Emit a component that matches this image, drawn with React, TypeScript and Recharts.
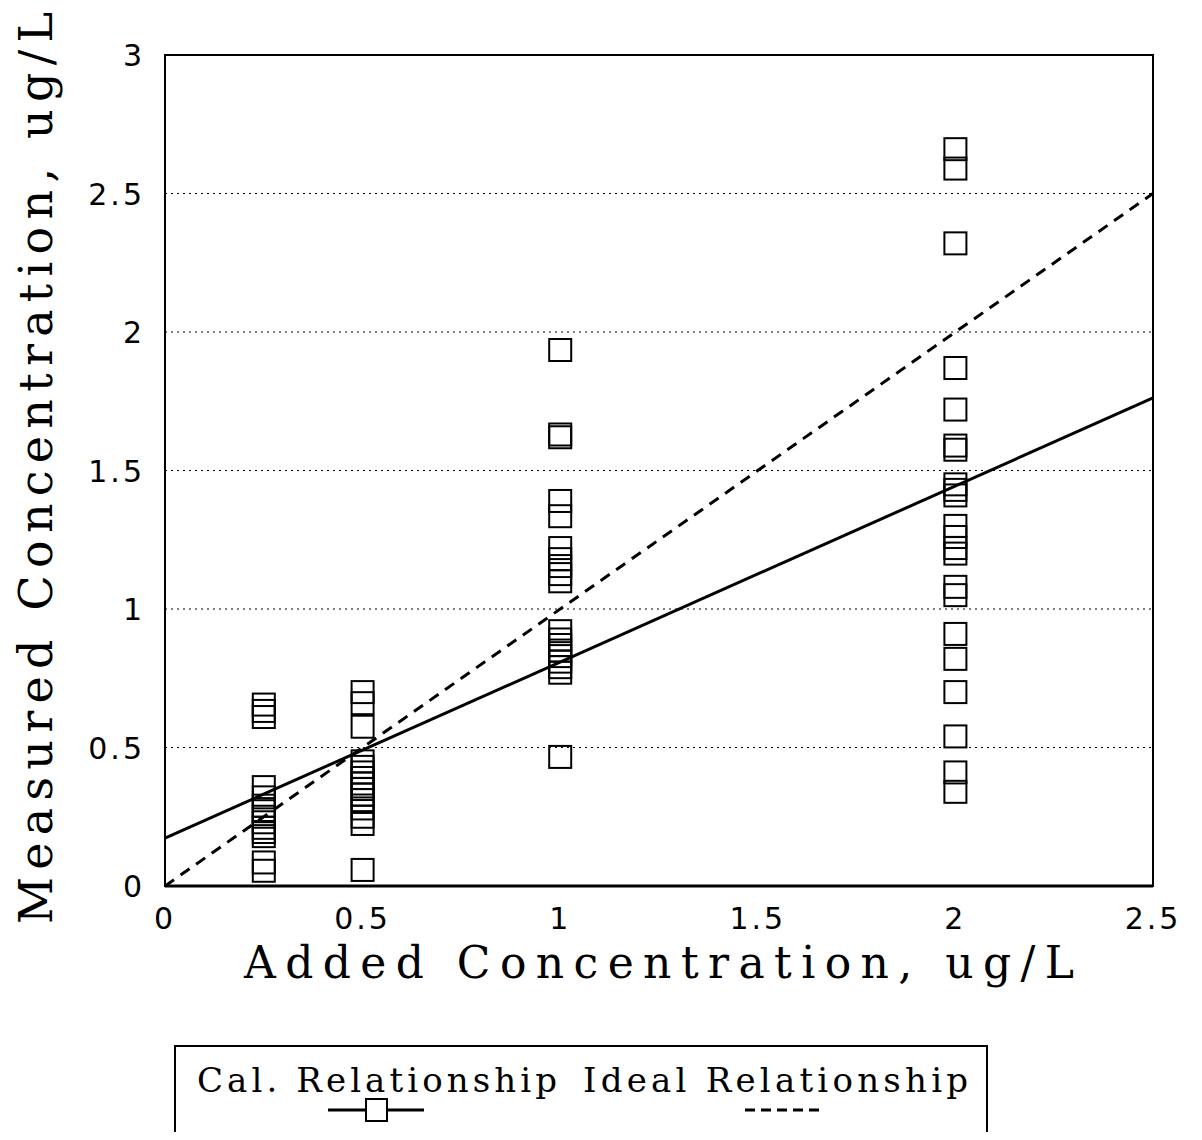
import React from 'react';
import { ScatterChart, Scatter, XAxis, YAxis, CartesianGrid, ReferenceArea, Label } from 'recharts';

// measured values grouped by added concentration (ug/L)
const LEVEL_025 = [0.655, 0.632, 0.61, 0.357, 0.32, 0.29, 0.27, 0.25, 0.23, 0.21, 0.195, 0.18, 0.085, 0.055];
const LEVEL_05 = [0.70, 0.66, 0.575, 0.45, 0.43, 0.41, 0.39, 0.37, 0.35, 0.33, 0.31, 0.28, 0.25, 0.224, 0.058];
const LEVEL_1 = [1.935, 1.63, 1.62, 1.39, 1.335, 1.22, 1.18, 1.155, 1.126, 1.10, 0.92, 0.89, 0.87, 0.85, 0.83, 0.81, 0.79, 0.77, 0.466];
const LEVEL_2 = [2.66, 2.59, 2.32, 1.87, 1.72, 1.59, 1.575, 1.45, 1.43, 1.41, 1.30, 1.26, 1.22, 1.20, 1.08, 1.05, 0.91, 0.82, 0.70, 0.54, 0.41, 0.34];

const CAL_X = [0, 2.5];
const CAL_Y = [0.173, 1.762];
const IDEAL_X = [0, 2.5];
const IDEAL_Y = [0, 2.5];

const X_TICKS = [0, 0.5, 1, 1.5, 2, 2.5];
const Y_TICKS = [0, 0.5, 1, 1.5, 2, 2.5, 3];

const toPoints = (x: number, ys: number[]) => ys.map((y) => ({ x, y }));
const measured = [
  ...toPoints(0.25, LEVEL_025),
  ...toPoints(0.5, LEVEL_05),
  ...toPoints(1, LEVEL_1),
  ...toPoints(2, LEVEL_2),
];
const calLine = CAL_X.map((x, i) => ({ x, y: CAL_Y[i] }));
const idealLine = IDEAL_X.map((x, i) => ({ x, y: IDEAL_Y[i] }));

const TITLE_FONT = '"DejaVu Serif", serif';
const TICK_FONT = '"DejaVu Sans", sans-serif';

const Square = (props: any) => {
  const { cx, cy } = props;
  return <rect x={cx - 11} y={cy - 11} width={22} height={22} fill="none" stroke="#000" strokeWidth={2} />;
};

const NoDot = () => <g />;

const XTick = ({ x, y, payload }: any) => (
  <text x={x} y={y} dy={43} textAnchor="middle" fontFamily={TICK_FONT} fontSize={30} letterSpacing={3} fill="#000">
    {payload.value}
  </text>
);

const YTick = ({ x, y, payload }: any) => (
  <text x={x} y={y} dy={11} textAnchor="end" fontFamily={TICK_FONT} fontSize={30} letterSpacing={3} fill="#000">
    {payload.value}
  </text>
);

const XTitle = ({ viewBox }: any) => (
  <text
    x={viewBox.x + viewBox.width / 2}
    y={viewBox.y + 92}
    textAnchor="middle"
    fontFamily={TITLE_FONT}
    fontSize={44}
    textLength={830}
    lengthAdjust="spacing"
    fill="#000"
  >
    Added Concentration, ug/L
  </text>
);

const YTitle = ({ viewBox }: any) => {
  const cx = viewBox.x - 13;
  const cy = 468;
  return (
    <text
      x={cx}
      y={cy}
      transform={`rotate(-90, ${cx}, ${cy})`}
      textAnchor="middle"
      fontFamily={TITLE_FONT}
      fontSize={46}
      textLength={912}
      lengthAdjust="spacing"
      fill="#000"
    >
      Measured Concentration, ug/L
    </text>
  );
};

const LegendBox = () => (
  <div
    style={{
      position: 'absolute',
      left: 174,
      top: 1045,
      width: 814,
      height: 93,
      border: '2px solid #000',
      boxSizing: 'border-box',
    }}
  >
    <svg width={810} height={89} style={{ display: 'block' }}>
      <text x={21} y={45} fontFamily={TITLE_FONT} fontSize={34} textLength={360} lengthAdjust="spacing" fill="#000">
        Cal. Relationship
      </text>
      <text x={407} y={45} fontFamily={TITLE_FONT} fontSize={34} textLength={385} lengthAdjust="spacing" fill="#000">
        Ideal Relationship
      </text>
      <line x1={152} y1={63} x2={248} y2={63} stroke="#000" strokeWidth={3} />
      <rect x={190} y={52} width={21} height={22} fill="#fff" stroke="#000" strokeWidth={2} />
      <line x1={569} y1={63} x2={645} y2={63} stroke="#000" strokeWidth={3} strokeDasharray="10 6" />
    </svg>
  </div>
);

export default function App() {
  return (
    <div style={{ position: 'relative', width: 1202, height: 1140, margin: -8, background: '#fff' }}>
      <ScatterChart width={1202} height={1140} margin={{ top: 55, right: 49, left: 65, bottom: 194 }}>
        <CartesianGrid vertical={false} stroke="#000" strokeWidth={1.2} strokeDasharray="2 4" />
        <XAxis
          type="number"
          dataKey="x"
          domain={[0, 2.5]}
          ticks={X_TICKS}
          height={60}
          tickLine={false}
          tickSize={0}
          tickMargin={0}
          axisLine={{ stroke: '#000', strokeWidth: 3 }}
          tick={<XTick />}
          allowDataOverflow
        >
          <Label content={<XTitle />} />
        </XAxis>
        <YAxis
          type="number"
          dataKey="y"
          domain={[0, 3]}
          ticks={Y_TICKS}
          width={100}
          tickLine={false}
          tickSize={0}
          tickMargin={20}
          axisLine={{ stroke: '#000', strokeWidth: 2 }}
          tick={<YTick />}
          allowDataOverflow
        >
          <Label content={<YTitle />} />
        </YAxis>
        <ReferenceArea x1={0} x2={2.5} y1={0} y2={3} fill="none" stroke="#000" strokeWidth={2} />
        <Scatter
          data={idealLine}
          line={{ stroke: '#000', strokeWidth: 3, strokeDasharray: '11 8' }}
          shape={<NoDot />}
          isAnimationActive={false}
        />
        <Scatter
          data={calLine}
          line={{ stroke: '#000', strokeWidth: 3 }}
          shape={<NoDot />}
          isAnimationActive={false}
        />
        <Scatter data={measured} shape={<Square />} isAnimationActive={false} />
      </ScatterChart>
      <LegendBox />
    </div>
  );
}
